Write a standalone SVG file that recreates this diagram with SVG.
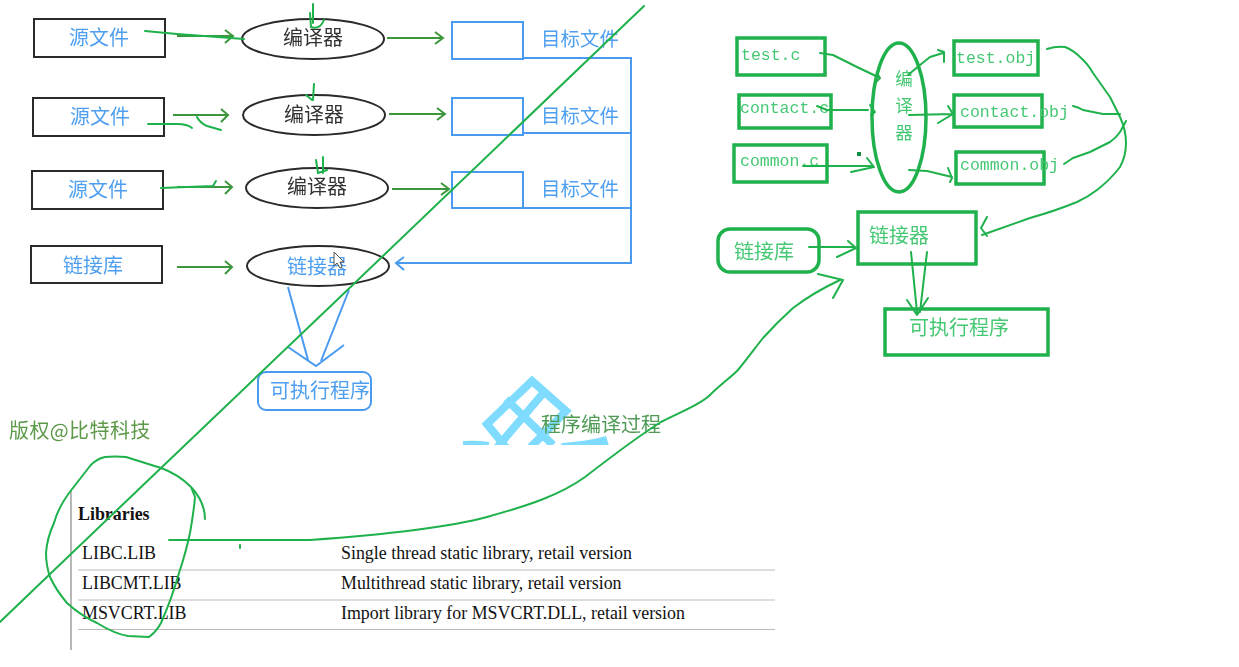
<svg xmlns="http://www.w3.org/2000/svg" width="1239" height="667" viewBox="0 0 1239 667">
<style>
text{font-family:"Noto Sans CJK SC","Liberation Sans",sans-serif;font-size:20px;filter:url(#soft)}
.ctr{text-anchor:middle}
.blk{fill:#fff;stroke:#2a2a2a;stroke-width:2}
.blu{fill:none;stroke:#4a9af0;stroke-width:2}
.grn{fill:none;stroke:#1fb14c;stroke-width:3.5}
.bt{fill:#4f9ff0}
.kt{fill:#333}
.gt{fill:#45c873}
.mono{font-family:"Liberation Mono",monospace;font-size:16.5px}
.ser{font-family:"Liberation Serif",serif;font-size:17.9px;fill:#111;filter:none}
.dk{fill:none;stroke:#3c963c;stroke-width:2}
.hd{fill:none;stroke:#1fb14c;stroke-width:2;stroke-linejoin:round;stroke-linecap:round}
.bl2{fill:none;stroke:#4a9af0;stroke-width:2}
.rule{stroke:#bbb;stroke-width:1.2}
</style>
<defs>
<filter id="soft" x="-5%" y="-20%" width="110%" height="140%"><feGaussianBlur stdDeviation="0.35"/></filter>
<clipPath id="logoclip"><rect x="450" y="365" width="200" height="80"/></clipPath>
</defs>
<rect width="1239" height="667" fill="#fff"/>

<g id="logo" clip-path="url(#logoclip)">
<path d="M508 450L487 424L532 381L566 411L528 450M506 399L553 445M545 391L495 450" fill="none" stroke="#7fdcff" stroke-width="8"/>
<path d="M562 443Q590 441 606 436L609 446L560 446Z M463 441Q478 440 489 442L489 446L463 446Z" fill="#7fdcff"/>
</g>

<g id="src1"><rect class="blk" x="34" y="19" width="131" height="38"/><text class="bt ctr" x="99" y="45">源文件</text></g>
<g id="src2"><rect class="blk" x="33" y="98" width="131" height="38"/><text class="bt ctr" x="100" y="124">源文件</text></g>
<g id="src3"><rect class="blk" x="32" y="171" width="131" height="38"/><text class="bt ctr" x="98" y="197">源文件</text></g>
<g id="lib"><rect class="blk" x="31" y="246" width="131" height="37"/><text class="bt ctr" x="93" y="273">链接库</text></g>
<g id="cc1"><ellipse class="blk" cx="313" cy="39" rx="71" ry="20"/><text class="kt ctr" x="313" y="45">编译器</text></g>
<g id="cc2"><ellipse class="blk" cx="314" cy="115" rx="71" ry="20"/><text class="kt ctr" x="314" y="122">编译器</text></g>
<g id="cc3"><ellipse class="blk" cx="317" cy="188" rx="71" ry="20"/><text class="kt ctr" x="317" y="194">编译器</text></g>
<g id="ld"><ellipse class="blk" cx="318" cy="266" rx="71" ry="20"/><text class="bt ctr" x="317" y="274">链接器</text></g>
<g id="obj1"><rect class="blu" x="452" y="22" width="71" height="37"/><text class="bt" x="541" y="46" style="font-size:19.500px">目标文件</text></g>
<g id="obj2"><rect class="blu" x="452" y="98" width="71" height="37"/><text class="bt" x="541" y="123" style="font-size:19.500px">目标文件</text></g>
<g id="obj3"><rect class="blu" x="452" y="172" width="71" height="36"/><text class="bt" x="541" y="196" style="font-size:19.500px">目标文件</text></g>
<g id="exe"><rect class="blu" x="258" y="372" width="113" height="38" rx="8"/><text class="bt ctr" x="320" y="398">可执行程序</text></g>

<g id="r-test"><rect class="grn" x="737" y="38" width="88" height="37"/><text class="gt mono" x="741" y="60">test.c</text></g>
<g id="r-contact"><rect class="grn" x="739" y="95" width="92" height="33"/><text class="gt mono" x="740" y="113">contact.c</text></g>
<g id="r-common"><rect class="grn" x="734" y="145" width="93" height="37"/><text class="gt mono" x="740" y="166">common.c</text></g>
<g id="r-cc"><ellipse class="grn" cx="899" cy="117.500" rx="27" ry="74.500"/><text class="gt ctr" style="font-size:17.500px" x="904" y="85">编<tspan x="904" dy="27">译</tspan><tspan x="904" dy="27">器</tspan></text></g>
<g id="r-tobj"><rect class="grn" x="954" y="41" width="84" height="34"/><text class="gt mono" x="956" y="63">test.obj</text></g>
<g id="r-cobj"><rect class="grn" x="954" y="95" width="88" height="32"/><text class="gt mono" x="960" y="117">contact.obj</text></g>
<g id="r-mobj"><rect class="grn" x="956" y="152" width="88" height="32"/><text class="gt mono" x="960" y="170">common.obj</text></g>
<g id="r-ld"><rect class="grn" x="858" y="212" width="118" height="52"/><text class="gt" x="869" y="243">链接器</text></g>
<g id="r-lib"><rect class="grn" x="718" y="229" width="101" height="43" rx="12"/><text class="gt" x="734" y="259">链接库</text></g>
<g id="r-exe"><rect class="grn" x="885" y="309" width="163" height="46"/><text class="gt" x="909" y="335">可执行程序</text></g>

<g id="notes">
<text x="9" y="438" fill="#5c9a4a" style="letter-spacing:0.400px">版权@比特科技</text>
<text x="541" y="432" fill="#4f9a55">程序编译过程</text>
</g>

<g id="table">
<line x1="71" y1="490" x2="71" y2="650" stroke="#888" stroke-width="1.2"/>
<line class="rule" x1="78" y1="570" x2="775" y2="570"/>
<line class="rule" x1="78" y1="600" x2="775" y2="600"/>
<line class="rule" x1="78" y1="629.500" x2="775" y2="629.500"/>
<text class="ser" x="78" y="520" font-weight="bold">Libraries</text>
<text class="ser" x="82" y="559">LIBC.LIB</text>
<text class="ser" x="341" y="559">Single thread static library, retail version</text>
<text class="ser" x="82" y="589">LIBCMT.LIB</text>
<text class="ser" x="341" y="589">Multithread static library, retail version</text>
<text class="ser" x="82" y="619">MSVCRT.LIB</text>
<text class="ser" x="341" y="619">Import library for MSVCRT.DLL, retail version</text>
</g>

<g id="connectors">
<path class="dk" d="M177 36H233M225 30L233 36L225 43"/>
<path class="dk" d="M173 115H228M221 109L228 115L221 122"/>
<path class="dk" d="M177 187H232M225 181L232 187L225 194"/>
<path class="dk" d="M177 267H232M225 261L232 267L225 274"/>
<path class="dk" d="M387 38H443M435 32L443 38L435 44"/>
<path class="dk" d="M389 114H445M437 108L445 114L437 120"/>
<path class="dk" d="M392 189H449M441 183L449 189L441 195"/>
<path class="bl2" d="M523 58H631V263H396M523 133H631M523 208H631M404 257L396 263L404 270"/>
<path class="bl2" d="M288 287L308 360M349 290L321 361M288 347L316 366L344 345"/>

<path class="hd" d="M145 31L177 34L244 39"/>
<path class="hd" d="M313 4V23M310 13L311 27Q320 30 324 20"/>
<path class="hd" d="M148 124L177 124Q187 124 192 128M197 117Q200 123 207 126L221 130"/>
<path class="hd" d="M314 84L313 100M306 95L312 100"/>
<path class="hd" d="M161 188L213 186L216 181"/>
<path class="hd" d="M323 157V173M316 160L318 173L327 170"/>

<path class="hd" d="M820 53L833 55L857 67L878 77M877 73L880 78L875 83"/>
<path class="hd" d="M817 106L827 110H868M870 105L875 112L871 115"/>
<path class="hd" d="M803 166H873M867 158L874 167L851 172"/>
<path class="hd" d="M908 75L920 65L930 57L943 53M938 50L944 52V62"/>
<path class="hd" d="M909 115L953 114M948 106L953 114L938 123"/>
<path class="hd" d="M909 170L927 171L952 177M948 168L952 178L950 182"/>
<path class="hd" d="M809 247L855 247M848 241L856 248L837 257"/>
<path class="hd" d="M911 252L917 312M927 252L920 312M907 300L917 315L928 298"/>
<path class="hd" d="M1047 49Q1056 46 1065 47Q1073 50 1080 57Q1088 64 1093 73L1110 97L1120 117Q1126 130 1126 143Q1126 156 1120 167Q1110 180 1097 190Q1088 197 1077 202Q1055 211 1030 218L982 235M987 217L981 228L987 236"/>
<path class="hd" d="M1073 106Q1078 107 1083 110L1103 114H1120"/>
<path class="hd" d="M1064 164L1073 158L1090 152L1110 142Q1116 138 1120 132L1126 121"/>
<rect x="857" y="152" width="4" height="4" fill="#0f8f3f"/>

<path class="hd" d="M644 6L337 300L161 468L49 575L0 622"/>
<path class="hd" d="M205 519Q205 502 191 487Q178 474 161 468L126 457Q115 456 105 457Q96 459 90 466L69 493Q58 508 54 523Q47 538 46 553Q46 565 50 577Q56 590 67 603Q80 615 97 623Q115 634 128 636L149 637Q156 632 161 623Q172 598 179 573Q186 552 190 533Q194 510 195 497L191 487"/>
<path class="hd" d="M169 540H310C380 535 450 527 487 517C530 505 560 495 585 477C620 450 640 435 661 422C680 412 700 405 710 395C720 385 730 378 738 370C748 358 755 348 763 338C773 327 783 317 793 308C810 295 825 287 840 280M818 274L843 280L833 298"/>
<path class="hd" d="M240 545V548"/>
</g>

<g id="cursor"><path d="M334 252V266L337 263L340 268L342 267L340 262H344Z" fill="#fff" stroke="#555" stroke-width="1"/></g>
</svg>
